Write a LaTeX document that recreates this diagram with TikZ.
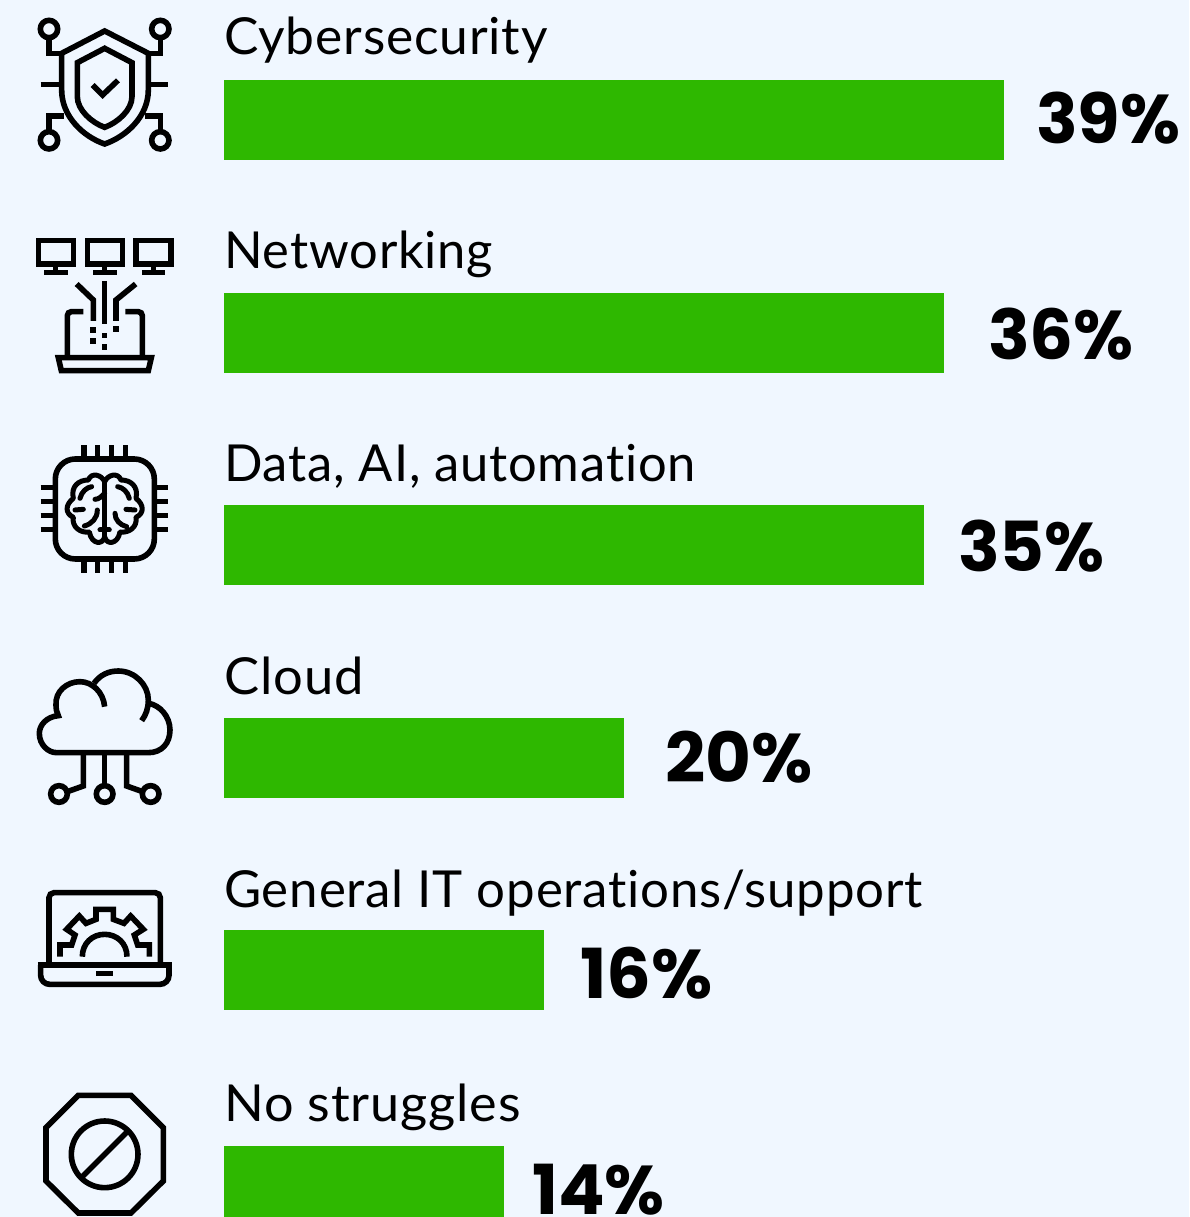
\documentclass[tikz,border=0pt]{standalone}
\usepackage{fontspec}
\setmainfont{Lato}[Ligatures=NoCommon,LetterSpace=1.6]
\newfontfamily\pctfont{Poppins}
\definecolor{bgc}{HTML}{F0F7FF}
\definecolor{barc}{HTML}{2EB800}
\tikzset{
 barbox/.style={fill=barc,draw=none},
 lab/.style={anchor=base west,inner sep=0pt,font=\fontsize{51}{60}\selectfont,text=black,transform shape},
 pct/.style={anchor=base west,inner sep=0pt,font=\pctfont\bfseries\fontsize{69}{72}\selectfont,text=black,transform shape},
 ico/.style={line width=5.6pt,line cap=butt,line join=miter,draw=black,x=0.3333pt,y=-0.3333pt},
}
\begin{document}
\begin{tikzpicture}[x=1pt,y=-1pt]
\useasboundingbox (0,0) rectangle (1189,1217);
\fill[bgc] (0,0) rectangle (1189,1217);
\begin{scope}
\clip (0,0) rectangle (1189,1217);
\fill[barbox] (224,80) rectangle (1004,160);
\fill[barbox] (224,293) rectangle (944,373);
\fill[barbox] (224,505) rectangle (924,585);
\fill[barbox] (224,718) rectangle (624,798);
\fill[barbox] (224,930) rectangle (544,1010);
\fill[barbox] (224,1146) rectangle (504,1230);
\end{scope}
\node[lab,xscale=1.01] (l1) at (224,55) {Cybersecurity};
\node[lab,xscale=0.993] (l2) at (224,268) {Networking};
\node[lab,xscale=0.994] (l3) at (224,481) {Data, AI, automation};
\node[lab,xscale=1.03] (l4) at (224,694) {Cloud};
\node[lab] (l5) at (224,907) {General IT operations/support};
\node[lab,xscale=1.024] (l6) at (224,1121) {No struggles};
\node[pct] (p1) at (1036,144) {39\%};
\node[pct] (p2) at (988,359) {36\%};
\node[pct] (p3) at (958,571) {35\%};
\node[pct,xscale=1.02] (p4) at (665,782) {20\%};
\node[pct,xscale=1.02] (p5) at (580,998) {16\%};
\node[pct] (p6) at (532,1214) {14\%};
% icon 1
\begin{scope}[shift={(20,0)},ico]
\foreach \a/\b in {87/87,421/87,87/421,421/421}{\draw (\a,\b) circle (26);}
\draw (254,93) -- (125,160) -- (125,270) .. controls (125,350) and (190,410) .. (254,432) .. controls (318,410) and (385,350) .. (385,270) -- (385,160) -- cycle;
\draw (254,145) -- (172,188) -- (172,290) .. controls (172,330) and (215,368) .. (254,382) .. controls (293,368) and (336,330) .. (336,290) -- (336,188) -- cycle;
\draw (218,255) -- (248,285) -- (294,241);
\draw (87,113) -- (87,160) -- (125,160);
\draw (421,113) -- (421,160) -- (385,160);
\draw (62,254) -- (125,254);
\draw (385,254) -- (445,254);
\draw (87,395) -- (87,348) -- (132,348);
\draw (421,395) -- (421,348) -- (376,348);
\end{scope}
% icon 2
\begin{scope}[shift={(20,220)},ico]
\foreach \a in {0,147,293}{
 \begin{scope}[xshift=\a*0.3333pt]
 \draw (55,62) rectangle (160,132);
 \draw (107,132) -- (107,157);
 \draw (73,157) -- (143,157);
 \end{scope}
}
\draw (254,183) -- (254,312);
\draw (170,192) -- (220,240) -- (220,303);
\draw (347,192) -- (288,240) -- (288,303);
\foreach \a/\b in {220/330,288/328,220/363,254/347,254/381}{\fill (\a-8.5,\b-8.5) rectangle (\a+8.5,\b+8.5);}
\draw[rounded corners=4pt] (190,275) -- (142,275) -- (142,410);
\draw[rounded corners=4pt] (316,275) -- (367,275) -- (367,410);
\draw (115,413) -- (394,413) -- (385,452) -- (124,452) -- cycle;
\end{scope}
% icon 3
\begin{scope}[shift={(20,430)},ico]
\draw[rounded corners=20pt] (106,87) rectangle (403,387);
\foreach \a in {192,233,275,316}{\draw (\a,45) -- (\a,87); \draw (\a,387) -- (\a,428);}
\foreach \b in {173,215,257,298}{\draw (62,\b) -- (106,\b); \draw (403,\b) -- (445,\b);}
\begin{scope}[line width=5pt,line join=round,line cap=round]
\draw (254,155) .. controls (245,135) and (215,125) .. (205,150) .. controls (175,150) and (152,170) .. (160,205) .. controls (135,225) and (135,250) .. (160,262) .. controls (155,290) and (180,310) .. (208,306) .. controls (215,345) and (250,345) .. (254,320);
\draw (254,155) .. controls (263,135) and (293,125) .. (303,150) .. controls (333,150) and (356,170) .. (348,205) .. controls (373,225) and (373,250) .. (348,262) .. controls (353,290) and (328,310) .. (300,306) .. controls (293,345) and (258,345) .. (254,320);
\draw (254,155) -- (254,320);
\draw (180,205) .. controls (185,185) and (200,172) .. (215,170);
\draw (293,170) .. controls (308,172) and (323,185) .. (328,205);
\draw (225,208) .. controls (235,208) and (245,200) .. (254,190);
\draw (165,240) -- (190,238);
\draw (318,238) -- (345,240);
\draw (193,288) .. controls (215,282) and (232,265) .. (232,240);
\draw (285,250) .. controls (285,270) and (300,285) .. (320,290);
\draw (240,300) -- (268,300);
\end{scope}
\end{scope}
% icon 4
\begin{scope}[shift={(20,650)},ico]
\draw (254,170) .. controls (250,125) and (215,95) .. (180,95) .. controls (140,95) and (105,125) .. (108,165) .. controls (108,177) and (110,187) .. (115,197) .. controls (80,200) and (58,225) .. (58,250) .. controls (58,285) and (85,308) .. (110,308) -- (385,308) .. controls (425,308) and (450,280) .. (450,240) .. controls (450,200) and (420,165) .. (385,160);
\draw (222,100) .. controls (240,75) and (265,63) .. (295,63) .. controls (345,63) and (385,105) .. (385,150) .. controls (385,175) and (378,195) .. (365,212);
\draw (190,308) -- (190,408) -- (142,425);
\draw (254,308) -- (254,405);
\draw (320,308) -- (320,408) -- (368,425);
\foreach \a in {117,254,392}{\draw (\a,432) circle (25);}
\end{scope}
% icon 5
\begin{scope}[shift={(20,870)},ico]
\draw[rounded corners=5pt] (87,278) -- (87,68) -- (421,68) -- (421,278);
\draw[rounded corners=9pt] (62,285) -- (62,343) -- (447,343) -- (447,285);
\draw (54,285) -- (455,285);
\fill (229,303) rectangle (279,318);
\draw (120,260) -- (120,225) -- (155,225) -- (165,195) -- (140,178) -- (178,138) -- (198,160) -- (228,148) -- (228,118) -- (280,118) -- (280,148) -- (312,160) -- (332,138) -- (370,178) -- (343,195) -- (353,225) -- (388,225) -- (388,260);
\draw (187,260) .. controls (187,220) and (217,193) .. (254,193) .. controls (291,193) and (321,220) .. (321,260);
\end{scope}
% icon 6
\begin{scope}[shift={(20,1077)},ico]
\draw (175,55) -- (333,55) -- (430,152) -- (430,312) -- (333,408) -- (175,408) -- (78,312) -- (78,152) -- cycle;
\draw (254,232) circle (100);
\draw (186,300) -- (322,164);
\end{scope}
\end{tikzpicture}
\end{document}
